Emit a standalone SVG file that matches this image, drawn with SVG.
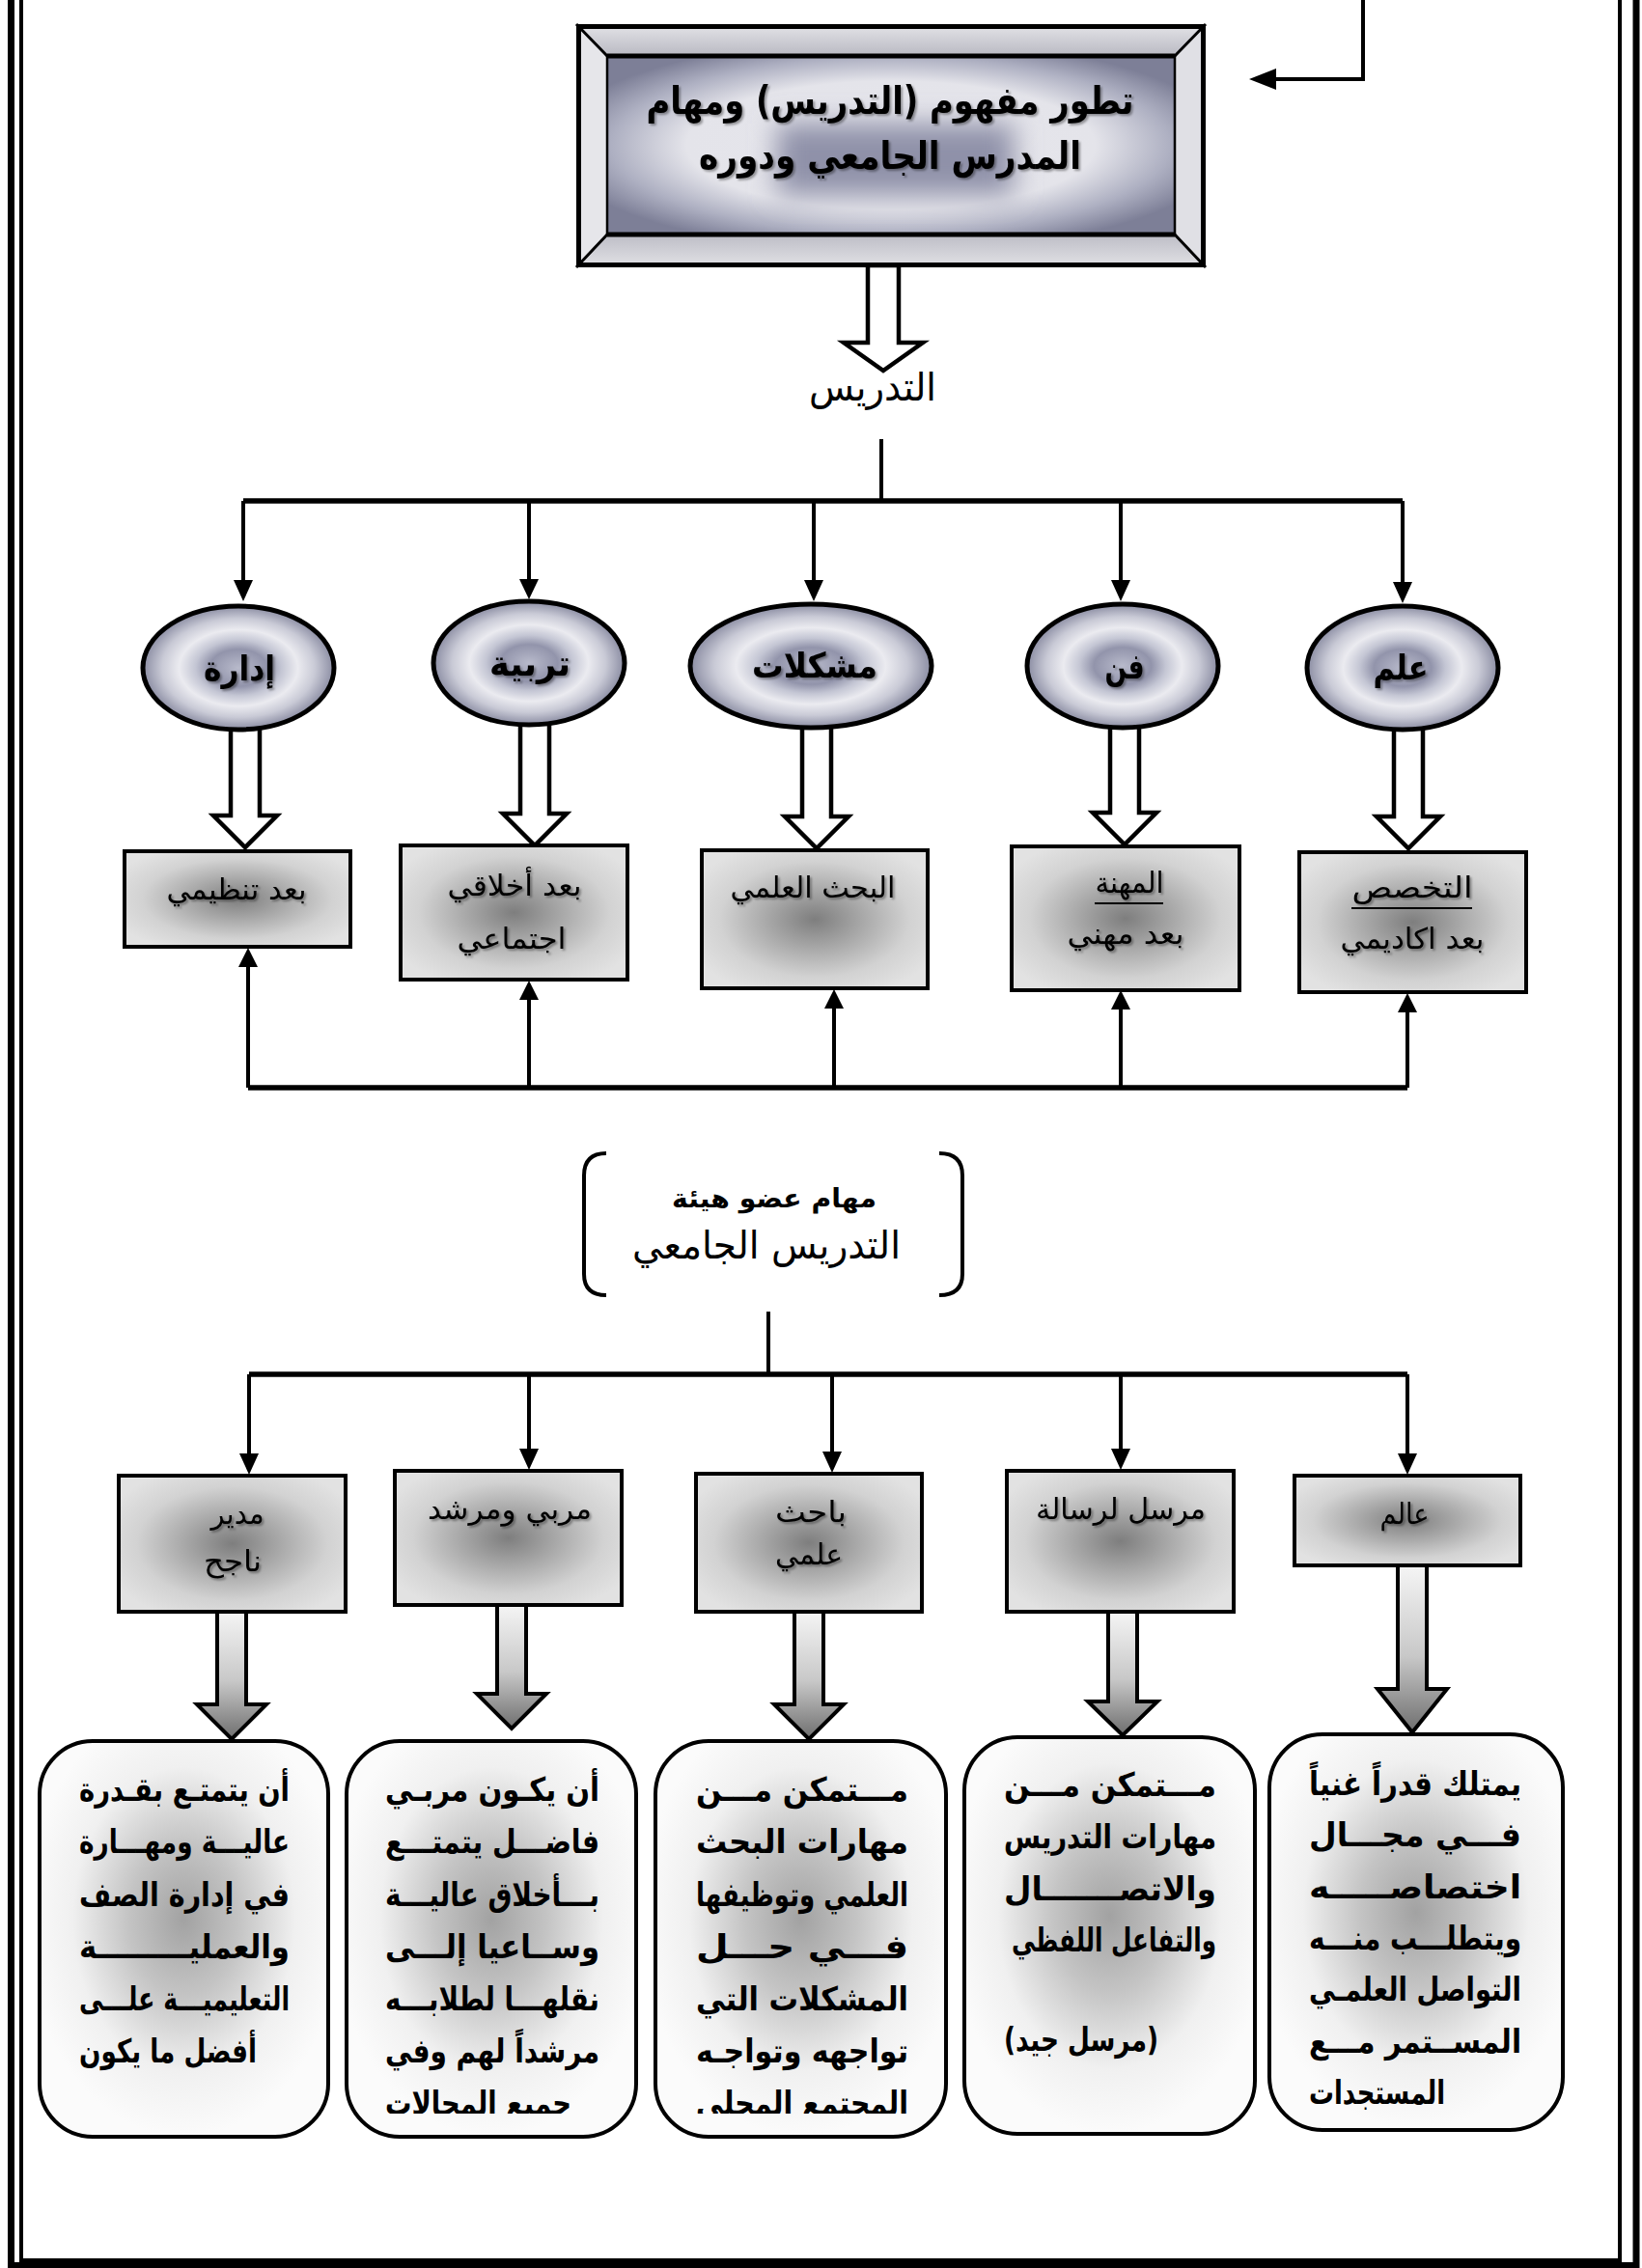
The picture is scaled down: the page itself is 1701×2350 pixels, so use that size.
<svg xmlns="http://www.w3.org/2000/svg" width="1701" height="2350" viewBox="0 0 1701 2350">
  <style>
    .ar { font-family: 'DejaVu Sans', 'Noto Sans', sans-serif; fill: #000; }
    .bd { font-weight: bold; }
    .ln { stroke: #000; stroke-width: 4; fill: none; }
    .bus { stroke: #000; stroke-width: 5.5; fill: none; }
    .head { fill: #000; stroke: none; }
    .hollow { fill: #fff; stroke: #000; stroke-width: 4.5; stroke-linejoin: miter; }
    .grad-arrow { fill: url(#arrowGrad); stroke: #000; stroke-width: 4; stroke-linejoin: miter; }
    .ell { fill: url(#ellGrad); stroke: #000; stroke-width: 5; }
    .box { fill: url(#boxGrad); stroke: #000; stroke-width: 4; }
    .rbox { fill: url(#roundGrad); stroke: #000; stroke-width: 4; }
    .sh { filter: url(#tshadow); }
  </style>
  <defs>
    <radialGradient id="ellGrad" cx="0.5" cy="0.5" r="0.5">
      <stop offset="0" stop-color="#b8bacb"/>
      <stop offset="0.3" stop-color="#9294ab"/>
      <stop offset="0.45" stop-color="#c4c6d4"/>
      <stop offset="0.62" stop-color="#ebebf0"/>
      <stop offset="0.8" stop-color="#c9cad6"/>
      <stop offset="1" stop-color="#8a8ca2"/>
    </radialGradient>
    <radialGradient id="boxGrad" cx="0.5" cy="0.5" r="0.6">
      <stop offset="0" stop-color="#7e7e7e"/>
      <stop offset="0.35" stop-color="#a8a8a8"/>
      <stop offset="0.7" stop-color="#d2d2d2"/>
      <stop offset="1" stop-color="#e2e2e2"/>
    </radialGradient>
    <radialGradient id="roundGrad" cx="0.5" cy="0.45" r="0.55">
      <stop offset="0" stop-color="#a2a2a2"/>
      <stop offset="0.35" stop-color="#c4c4c4"/>
      <stop offset="0.7" stop-color="#f0f0f0"/>
      <stop offset="1" stop-color="#fbfbfb"/>
    </radialGradient>
    <linearGradient id="arrowGrad" x1="0" y1="0" x2="0" y2="1">
      <stop offset="0" stop-color="#f6f6f6"/>
      <stop offset="0.55" stop-color="#c8c8c8"/>
      <stop offset="1" stop-color="#6e6e6e"/>
    </linearGradient>
    <radialGradient id="panelGrad" cx="0.5" cy="0.5" r="0.6">
      <stop offset="0" stop-color="#e6e6ec"/>
      <stop offset="0.6" stop-color="#e4e4ea"/>
      <stop offset="0.82" stop-color="#aeb0c2"/>
      <stop offset="1" stop-color="#7d7f97"/>
    </radialGradient>
    <linearGradient id="bevelTop" x1="0" y1="0" x2="0" y2="1">
      <stop offset="0" stop-color="#e4e4e8"/>
      <stop offset="1" stop-color="#b9b9c2"/>
    </linearGradient>
    <linearGradient id="bevelBottom" x1="0" y1="0" x2="0" y2="1">
      <stop offset="0" stop-color="#bdbdc6"/>
      <stop offset="1" stop-color="#e2e2e6"/>
    </linearGradient>
    <filter id="haze" x="-50%" y="-50%" width="200%" height="200%">
      <feGaussianBlur stdDeviation="14"/>
    </filter>
    <filter id="tshadow" x="-10%" y="-30%" width="120%" height="160%">
      <feGaussianBlur in="SourceAlpha" stdDeviation="1.3"/>
      <feOffset dx="2" dy="2" result="off"/>
      <feFlood flood-color="#000" flood-opacity="0.35"/>
      <feComposite in2="off" operator="in"/>
      <feMerge><feMergeNode/><feMergeNode in="SourceGraphic"/></feMerge>
    </filter>
    <clipPath id="clipB2"><rect x="359" y="1804" width="300" height="386"/></clipPath>
    <clipPath id="clipB3"><rect x="679" y="1804" width="301" height="386"/></clipPath>
  </defs>

  <rect width="1701" height="2350" fill="#fff"/>

  <!-- page frame: thick outer line, thin inner line (top edge lies above the sheet) -->
  <g id="frame" fill="none" stroke="#000">
    <rect x="11.5" y="-20" width="1683.5" height="2367.5" stroke-width="7"/>
    <rect x="22" y="-20" width="1656" height="2362" stroke-width="4"/>
  </g>

  <!-- connectors -->
  <g id="connectors">
    <!-- incoming arrow at top right -->
    <path class="ln" d="M1412,0 V82 H1318" stroke-width="5"/>
    <polygon class="head" points="1294,82 1322,71 1322,93"/>

    <!-- hollow arrow from title to label -->
    <polygon class="hollow" points="899,275 931,275 931,355 956,355 915,384 874,355 899,355"/>

    <!-- label to branch bus -->
    <path class="ln" d="M913,455 V519"/>
    <path class="bus" d="M252,519 H1453"/>
    <path class="ln" d="M252,519 V603 M548,519 V601 M843,519 V603 M1161,519 V603 M1453,519 V605"/>
    <polygon class="head" points="242,601 262,601 252,623"/>
    <polygon class="head" points="538,600 558,600 548,621"/>
    <polygon class="head" points="833,601 853,601 843,623"/>
    <polygon class="head" points="1151,601 1171,601 1161,623"/>
    <polygon class="head" points="1443,603 1463,603 1453,625"/>

    <!-- hollow arrows from ellipses to dimension boxes -->
    <polygon class="hollow" points="239,740 269,740 269,845 287,845 254,878 221,845 239,845"/>
    <polygon class="hollow" points="539,740 569,740 569,843 587,843 554,876 521,843 539,843"/>
    <polygon class="hollow" points="831,740 861,740 861,846 879,846 846,879 813,846 831,846"/>
    <polygon class="hollow" points="1150,740 1180,740 1180,842 1198,842 1165,875 1132,842 1150,842"/>
    <polygon class="hollow" points="1444,740 1474,740 1474,846 1492,846 1459,879 1426,846 1444,846"/>

    <!-- feedback bus under the dimension boxes -->
    <path class="bus" d="M257,1127 H1458"/>
    <path class="ln" d="M257,1127 V1000 M548,1127 V1034 M864,1127 V1043 M1161,1127 V1044 M1458,1127 V1047"/>
    <polygon class="head" points="247,1002 267,1002 257,982"/>
    <polygon class="head" points="538,1036 558,1036 548,1016"/>
    <polygon class="head" points="854,1045 874,1045 864,1025"/>
    <polygon class="head" points="1151,1046 1171,1046 1161,1026"/>
    <polygon class="head" points="1448,1049 1468,1049 1458,1029"/>

    <!-- bracket title to roles bus -->
    <path class="ln" d="M796,1359 V1424"/>
    <path class="bus" d="M258,1424 H1458" stroke-width="7"/>
    <path class="ln" d="M258,1424 V1508 M548,1424 V1503 M862,1424 V1506 M1161,1424 V1503 M1458,1424 V1508"/>
    <polygon class="head" points="248,1506 268,1506 258,1528"/>
    <polygon class="head" points="538,1501 558,1501 548,1523"/>
    <polygon class="head" points="852,1504 872,1504 862,1526"/>
    <polygon class="head" points="1151,1501 1171,1501 1161,1523"/>
    <polygon class="head" points="1448,1506 1468,1506 1458,1528"/>

    <!-- shaded block arrows from roles to descriptions -->
    <polygon class="grad-arrow" points="225,1668 255,1668 255,1766 276,1766 240,1802 204,1766 225,1766"/>
    <polygon class="grad-arrow" points="515,1661 545,1661 545,1755 566,1755 530,1791 494,1755 515,1755"/>
    <polygon class="grad-arrow" points="823,1668 853,1668 853,1766 874,1766 838,1802 802,1766 823,1766"/>
    <polygon class="grad-arrow" points="1148,1668 1178,1668 1178,1763 1199,1763 1163,1798 1127,1763 1148,1763"/>
    <polygon class="grad-arrow" points="1448,1620 1478,1620 1478,1750 1499,1750 1463,1795 1427,1750 1448,1750"/>
  </g>

  <!-- title panel with bevelled frame -->
  <g id="title">
    <rect x="597" y="25" width="652" height="252" fill="#d9d9de"/>
    <polygon points="597,25 1249,25 1217,58 629,58" fill="url(#bevelTop)"/>
    <polygon points="629,243 1217,243 1249,277 597,277" fill="url(#bevelBottom)"/>
    <polygon points="597,25 629,58 629,243 597,277" fill="#e6e6ea"/>
    <polygon points="1249,25 1217,58 1217,243 1249,277" fill="#e0e0e5"/>
    <rect x="629" y="58" width="588" height="185" fill="url(#panelGrad)"/>
    <rect x="805" y="128" width="245" height="74" fill="#8f91a9" filter="url(#haze)"/>
    <g stroke="#000" fill="none">
      <rect x="599.5" y="27.5" width="647" height="247" stroke-width="5"/>
      <path d="M597,25 L629,58 M1249,25 L1217,58 M597,277 L629,243 M1249,277 L1217,243" stroke-width="3"/>
      <path d="M629,58 H1217 M629,243 H1217" stroke-width="5"/>
      <path d="M629,58 V243 M1217,58 V243" stroke-width="2.5"/>
    </g>
    <text class="ar bd sh" x="922" y="118" font-size="40" text-anchor="middle" textLength="505" lengthAdjust="spacingAndGlyphs">تطور مفهوم (التدريس) ومهام</text>
    <text class="ar bd sh" x="922" y="175" font-size="40" text-anchor="middle" textLength="396" lengthAdjust="spacingAndGlyphs">المدرس الجامعي ودوره</text>
  </g>

  <g id="label-tadris">
    <text class="ar" x="904" y="415" font-size="40" text-anchor="middle" textLength="132" lengthAdjust="spacingAndGlyphs">التدريس</text>
  </g>

  <!-- facets of teaching -->
  <g id="facet-idara">
    <ellipse class="ell" cx="247" cy="692" rx="99" ry="64"/>
    <text class="ar bd sh" x="248" y="705" font-size="36" text-anchor="middle" textLength="74" lengthAdjust="spacingAndGlyphs">إدارة</text>
  </g>
  <g id="facet-tarbiya">
    <ellipse class="ell" cx="548" cy="687" rx="99" ry="64"/>
    <text class="ar bd sh" x="549" y="700" font-size="36" text-anchor="middle" textLength="84" lengthAdjust="spacingAndGlyphs">تربية</text>
  </g>
  <g id="facet-mushkilat">
    <ellipse class="ell" cx="840" cy="690" rx="125" ry="64"/>
    <text class="ar bd sh" x="844" y="702" font-size="36" text-anchor="middle" textLength="130" lengthAdjust="spacingAndGlyphs">مشكلات</text>
  </g>
  <g id="facet-fann">
    <ellipse class="ell" cx="1163" cy="690" rx="99" ry="64"/>
    <text class="ar bd sh" x="1165" y="703" font-size="36" text-anchor="middle" textLength="41" lengthAdjust="spacingAndGlyphs">فن</text>
  </g>
  <g id="facet-ilm">
    <ellipse class="ell" cx="1453" cy="692" rx="99" ry="64"/>
    <text class="ar bd sh" x="1451" y="704" font-size="36" text-anchor="middle" textLength="57" lengthAdjust="spacingAndGlyphs">علم</text>
  </g>

  <!-- dimensions -->
  <g id="dim-organisational">
    <rect class="box" x="129" y="882" width="234" height="99"/>
    <text class="ar sh" x="245" y="932" font-size="30" text-anchor="middle" textLength="145" lengthAdjust="spacingAndGlyphs">بعد تنظيمي</text>
  </g>
  <g id="dim-ethical">
    <rect class="box" x="415" y="876" width="235" height="139"/>
    <text class="ar sh" x="533" y="928" font-size="30" text-anchor="middle" textLength="139" lengthAdjust="spacingAndGlyphs">بعد أخلاقي</text>
    <text class="ar sh" x="530" y="983" font-size="30" text-anchor="middle" textLength="113" lengthAdjust="spacingAndGlyphs">اجتماعي</text>
  </g>
  <g id="dim-research">
    <rect class="box" x="727" y="881" width="234" height="143"/>
    <text class="ar sh" x="842" y="930" font-size="30" text-anchor="middle" textLength="171" lengthAdjust="spacingAndGlyphs">البحث العلمي</text>
  </g>
  <g id="dim-profession">
    <rect class="box" x="1048" y="877" width="236" height="149"/>
    <text class="ar sh" x="1170" y="925" font-size="30" text-anchor="middle" textLength="71" lengthAdjust="spacingAndGlyphs">المهنة</text>
    <line x1="1134" y1="936" x2="1205" y2="936" stroke="#000" stroke-width="2"/>
    <text class="ar sh" x="1166" y="978" font-size="30" text-anchor="middle" textLength="121" lengthAdjust="spacingAndGlyphs">بعد مهني</text>
  </g>
  <g id="dim-specialisation">
    <rect class="box" x="1346" y="883" width="235" height="145"/>
    <text class="ar sh" x="1463" y="930" font-size="30" text-anchor="middle" textLength="125" lengthAdjust="spacingAndGlyphs">التخصص</text>
    <line x1="1400" y1="941" x2="1525" y2="941" stroke="#000" stroke-width="2"/>
    <text class="ar sh" x="1463" y="983" font-size="30" text-anchor="middle" textLength="149" lengthAdjust="spacingAndGlyphs">بعد اكاديمي</text>
  </g>

  <!-- bracketed heading for the roles -->
  <g id="roles-heading">
    <path d="M628,1195 Q605,1195 605,1218 V1320 Q605,1342 628,1342" fill="none" stroke="#000" stroke-width="4"/>
    <path d="M973,1195 Q997,1195 997,1218 V1320 Q997,1342 973,1342" fill="none" stroke="#000" stroke-width="4"/>
    <text class="ar bd" x="802" y="1251" font-size="27" text-anchor="middle" textLength="212" lengthAdjust="spacingAndGlyphs">مهام عضو هيئة</text>
    <text class="ar" x="794" y="1304" font-size="40" text-anchor="middle" textLength="278" lengthAdjust="spacingAndGlyphs">التدريس الجامعي</text>
  </g>

  <!-- roles -->
  <g id="role-manager">
    <rect class="box" x="123" y="1529" width="235" height="141"/>
    <text class="ar sh" x="246" y="1579" font-size="30" text-anchor="middle" textLength="55" lengthAdjust="spacingAndGlyphs">مدير</text>
    <text class="ar sh" x="241" y="1628" font-size="30" text-anchor="middle" textLength="60" lengthAdjust="spacingAndGlyphs">ناجح</text>
  </g>
  <g id="role-educator">
    <rect class="box" x="409" y="1524" width="235" height="139"/>
    <text class="ar sh" x="528" y="1574" font-size="30" text-anchor="middle" textLength="170" lengthAdjust="spacingAndGlyphs">مربي ومرشد</text>
  </g>
  <g id="role-researcher">
    <rect class="box" x="721" y="1527" width="234" height="143"/>
    <text class="ar sh" x="840" y="1577" font-size="30" text-anchor="middle" textLength="74" lengthAdjust="spacingAndGlyphs">باحث</text>
    <text class="ar sh" x="838" y="1621" font-size="30" text-anchor="middle" textLength="70" lengthAdjust="spacingAndGlyphs">علمي</text>
  </g>
  <g id="role-messenger">
    <rect class="box" x="1043" y="1524" width="235" height="146"/>
    <text class="ar sh" x="1161" y="1574" font-size="30" text-anchor="middle" textLength="176" lengthAdjust="spacingAndGlyphs">مرسل لرسالة</text>
  </g>
  <g id="role-scholar">
    <rect class="box" x="1341" y="1529" width="234" height="93"/>
    <text class="ar sh" x="1455" y="1579" font-size="30" text-anchor="middle" textLength="51" lengthAdjust="spacingAndGlyphs">عالم</text>
  </g>

  <!-- role descriptions -->
  <g id="desc-manager" class="ar bd" font-size="34">
    <rect class="rbox" x="41" y="1804" width="299" height="410" rx="55" ry="55"/>
    <text x="82" y="1866" textLength="218" lengthAdjust="spacingAndGlyphs">أن يتمتـع بقـدرة</text>
    <text x="82" y="1920" textLength="218" lengthAdjust="spacingAndGlyphs">عاليـــة ومهـــارة</text>
    <text x="82" y="1975" textLength="218" lengthAdjust="spacingAndGlyphs">في إدارة الصف</text>
    <text x="82" y="2029" textLength="218" lengthAdjust="spacingAndGlyphs">والعمليـــــــــة</text>
    <text x="82" y="2083" textLength="218" lengthAdjust="spacingAndGlyphs">التعليميـــة علـــى</text>
    <text x="82" y="2137" textLength="184" lengthAdjust="spacingAndGlyphs">أفضل ما يكون</text>
  </g>
  <g id="desc-educator" class="ar bd" font-size="34">
    <rect class="rbox" x="359" y="1804" width="300" height="410" rx="55" ry="55"/>
    <text x="399" y="1866" textLength="222" lengthAdjust="spacingAndGlyphs">أن يكـون مربـي</text>
    <text x="399" y="1920" textLength="222" lengthAdjust="spacingAndGlyphs">فاضـــل يتمتـــع</text>
    <text x="399" y="1975" textLength="222" lengthAdjust="spacingAndGlyphs">بـــأخلاق عاليـــة</text>
    <text x="399" y="2029" textLength="222" lengthAdjust="spacingAndGlyphs">وســاعيا إلـــى</text>
    <text x="399" y="2083" textLength="222" lengthAdjust="spacingAndGlyphs">نقلهـــا لطلابـــه</text>
    <text x="399" y="2137" textLength="222" lengthAdjust="spacingAndGlyphs">مرشداً لهم وفي</text>
    <text x="399" y="2191" textLength="193" lengthAdjust="spacingAndGlyphs" clip-path="url(#clipB2)">جميع المجالات</text>
  </g>
  <g id="desc-researcher" class="ar bd" font-size="34">
    <rect class="rbox" x="679" y="1804" width="301" height="410" rx="55" ry="55"/>
    <text x="721" y="1866" textLength="220" lengthAdjust="spacingAndGlyphs">مـــتمكن مـــن</text>
    <text x="721" y="1920" textLength="220" lengthAdjust="spacingAndGlyphs">مهارات البحث</text>
    <text x="721" y="1975" textLength="220" lengthAdjust="spacingAndGlyphs">العلمي وتوظيفها</text>
    <text x="721" y="2029" textLength="220" lengthAdjust="spacingAndGlyphs">فـــي حـــل</text>
    <text x="721" y="2083" textLength="220" lengthAdjust="spacingAndGlyphs">المشكلات التي</text>
    <text x="721" y="2137" textLength="220" lengthAdjust="spacingAndGlyphs">تواجهه وتواجـه</text>
    <text x="721" y="2191" textLength="220" lengthAdjust="spacingAndGlyphs" clip-path="url(#clipB3)">المجتمع المحلي</text>
  </g>
  <g id="desc-messenger" class="ar bd" font-size="34">
    <rect class="rbox" x="999" y="1800" width="301" height="411" rx="55" ry="55"/>
    <text x="1040" y="1861" textLength="220" lengthAdjust="spacingAndGlyphs">مـــتمكن مـــن</text>
    <text x="1040" y="1915" textLength="220" lengthAdjust="spacingAndGlyphs">مهارات التدريس</text>
    <text x="1040" y="1969" textLength="220" lengthAdjust="spacingAndGlyphs">والاتصـــــــال</text>
    <text x="1048" y="2022" textLength="212" lengthAdjust="spacingAndGlyphs">والتفاعل اللفظي</text>
    <text x="1040" y="2125" textLength="160" lengthAdjust="spacingAndGlyphs">(مرسل جيد)</text>
  </g>
  <g id="desc-scholar" class="ar bd" font-size="34">
    <rect class="rbox" x="1315" y="1797" width="304" height="410" rx="55" ry="55"/>
    <text x="1356" y="1860" textLength="220" lengthAdjust="spacingAndGlyphs">يمتلك قدراً غنياً</text>
    <text x="1356" y="1913" textLength="220" lengthAdjust="spacingAndGlyphs">فـــي مجـــال</text>
    <text x="1356" y="1967" textLength="220" lengthAdjust="spacingAndGlyphs">اختصاصـــــه</text>
    <text x="1356" y="2020" textLength="220" lengthAdjust="spacingAndGlyphs">ويتطلـــب منـــه</text>
    <text x="1356" y="2073" textLength="220" lengthAdjust="spacingAndGlyphs">التواصل العلمـي</text>
    <text x="1356" y="2127" textLength="220" lengthAdjust="spacingAndGlyphs">المســتمر مـــع</text>
    <text x="1356" y="2180" textLength="141" lengthAdjust="spacingAndGlyphs">المستجدات</text>
  </g>
</svg>
